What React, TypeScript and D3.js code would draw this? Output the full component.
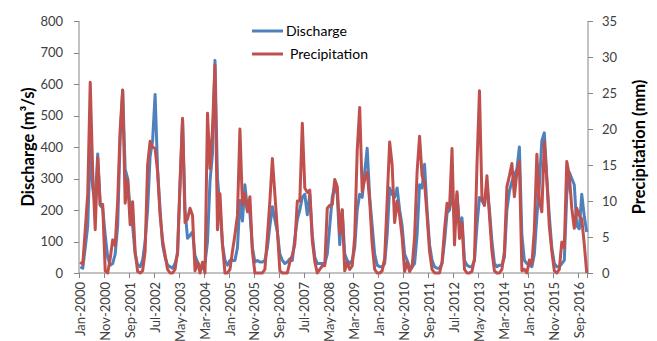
import React from 'react';
import * as d3 from 'd3';

// monthly values, Jan-2000 .. Dec-2016
const discharge = [
  19, 15, 80, 150, 400, 270, 220, 378, 215, 205, 120, 50, // 2000
  25, 30, 60, 150, 430, 580, 330, 300, 200, 150, 60, 25, // 2001
  20, 40, 100, 200, 370, 420, 567, 330, 200, 90, 50, 25, // 2002
  20, 15, 30, 60, 280, 486, 200, 110, 120, 130, 55, 35, // 2003
  20, 15, 30, 100, 290, 380, 675, 300, 210, 90, 40, 25, // 2004
  40, 40, 40, 80, 230, 165, 280, 200, 190, 80, 35, 40, // 2005
  35, 35, 40, 80, 150, 210, 170, 130, 60, 40, 30, 35, // 2006
  45, 40, 110, 170, 200, 240, 250, 185, 250, 120, 50, 30, // 2007
  30, 30, 30, 60, 150, 240, 275, 250, 90, 200, 60, 40, // 2008
  30, 40, 80, 200, 250, 240, 320, 396, 240, 150, 60, 25, // 2009
  20, 20, 30, 120, 270, 250, 240, 270, 200, 150, 60, 40, // 2010
  20, 20, 30, 120, 280, 270, 345, 200, 90, 40, 20, 15, // 2011
  15, 30, 100, 190, 200, 260, 170, 250, 150, 175, 40, 25, // 2012
  20, 20, 40, 150, 240, 230, 215, 280, 200, 100, 30, 20, // 2013
  25, 25, 50, 200, 260, 290, 310, 330, 400, 120, 40, 30, // 2014
  25, 20, 60, 180, 280, 420, 445, 300, 180, 80, 30, 20, // 2015
  20, 30, 40, 250, 320, 300, 280, 150, 140, 250, 180, 130, // 2016
];

const precipitation = [
  1.5, 1.2, 6, 11, 26.5, 14, 6, 16, 9.5, 9.5, 0.3, 0, // 2000
  2, 4.6, 3.8, 10, 20, 25.4, 9.7, 13, 6.7, 9.9, 3, 0.2, // 2001
  0, 0.3, 3, 15, 18.3, 17.5, 17.3, 14, 8, 4.5, 2.5, 0.5, // 2002
  0, 0, 0.5, 3, 12.7, 21.5, 7, 7.5, 9, 8, 0.3, 1.5, // 2003
  0, 1.5, 0, 22.2, 14.5, 20, 28.9, 6, 11, 4, 0, 0, // 2004
  0.5, 3, 5.3, 8, 20, 9.5, 11, 8.5, 10.6, 3, 0, 0, // 2005
  0, 0, 0.5, 5, 10, 15.9, 11, 6, 0.3, 0, 0, 0, // 2006
  1.5, 2.5, 4, 10, 10, 20.8, 11.8, 11.2, 11.5, 4.5, 1.6, 0, // 2007
  0.5, 1, 1, 9, 9.4, 9.5, 13, 12, 5.5, 8.8, 0.3, 1.5, // 2008
  0.5, 1, 5, 17, 23, 11.3, 13, 14, 10, 4, 0.5, 0, // 2009
  0, 0.3, 2, 10, 18.2, 15, 7, 10, 8, 5, 0.2, 1.5, // 2010
  0.2, 0.8, 5, 14, 19, 13.5, 12.5, 8, 3, 0.5, 0, 0, // 2011
  0, 1.5, 6, 9.7, 9, 17.3, 3.9, 11.3, 4.8, 7, 0.5, 0, // 2012
  0, 0.2, 2, 15, 25.3, 10.4, 9.4, 13.5, 8, 3, 0.3, 0, // 2013
  0, 0.5, 3, 12, 13.5, 15.2, 10.6, 14, 15.5, 0.3, 0.5, 0, // 2014
  1.8, 1.2, 6, 16.5, 10, 8.5, 18.2, 13, 6.5, 3, 0.3, 0, // 2015
  0.5, 4.3, 3.5, 15.5, 13.6, 9, 6.2, 9, 8, 7.5, 4, 0, // 2016
];

const tickLabels = [
  'Jan-2000', 'Nov-2000', 'Sep-2001', 'Jul-2002', 'May-2003', 'Mar-2004', 'Jan-2005',
  'Nov-2005', 'Sep-2006', 'Jul-2007', 'May-2008', 'Mar-2009', 'Jan-2010', 'Nov-2010',
  'Sep-2011', 'Jul-2012', 'May-2013', 'Mar-2014', 'Jan-2015', 'Nov-2015', 'Sep-2016',
];
const dischargeTicks = [0, 100, 200, 300, 400, 500, 600, 700, 800];
const precipTicks = [0, 5, 10, 15, 20, 25, 30, 35];

const W = 657;
const H = 341;
const left = 79;
const right = 588;
const top = 21;
const bottom = 273;
const font = 'Lato, "Liberation Sans", sans-serif';
const axisColor = '#868686';
const blue = '#4F81BD';
const red = '#C0504D';

export default function App() {
  const idx = d3.range(discharge.length);
  const x = d3.scaleBand<number>().domain(idx).range([left, right]);
  const cx = (i: number) => (x(i) as number) + x.bandwidth() / 2;
  const yL = d3.scaleLinear().domain([0, 800]).range([bottom, top]);
  const yR = d3.scaleLinear().domain([0, 35]).range([bottom, top]);

  const dLine = d3.line<number>().x((d, i) => cx(i)).y(d => yL(d));
  const pLine = d3.line<number>().x((d, i) => cx(i)).y(d => yR(d));

  const tickIdx = tickLabels.map((_, k) => k * 10);

  return (
    <svg width={W} height={H} style={{ position: 'absolute', left: 0, top: 0, background: '#fff' }}
      fontFamily={font}>
      {/* axes */}
      <line x1={left} x2={left} y1={top} y2={bottom} stroke={axisColor} />
      <line x1={right} x2={right} y1={top} y2={bottom} stroke={axisColor} />
      <line x1={left} x2={right} y1={bottom} y2={bottom} stroke={axisColor} />
      {dischargeTicks.map(t => (
        <g key={'l' + t}>
          <line x1={left - 5} x2={left} y1={Math.round(yL(t)) + 0.5} y2={Math.round(yL(t)) + 0.5} stroke={axisColor} />
          <text x={left - 16} y={yL(t)} dy="0.35em" textAnchor="end" fontSize={13} fill="#404040">{t}</text>
        </g>
      ))}
      {precipTicks.map(t => (
        <g key={'r' + t}>
          <line x1={right} x2={right + 5} y1={Math.round(yR(t)) + 0.5} y2={Math.round(yR(t)) + 0.5} stroke={axisColor} />
          <text x={right + 14} y={yR(t)} dy="0.35em" textAnchor="start" fontSize={13} fill="#404040">{t}</text>
        </g>
      ))}
      {tickIdx.map(i => (
        <line key={'t' + i} x1={Math.round(x(i) as number) + 0.5} x2={Math.round(x(i) as number) + 0.5}
          y1={bottom} y2={bottom + 5} stroke={axisColor} />
      ))}
      <line x1={right - 0.5} x2={right - 0.5} y1={bottom} y2={bottom + 5} stroke={axisColor} />
      {tickLabels.map((lab, k) => (
        <text key={lab} transform={`translate(${cx(tickIdx[k])},${bottom + 9}) rotate(-90)`}
          dy="0.35em" textAnchor="end" fontSize={13} fill="#404040">{lab}</text>
      ))}

      {/* axis titles */}
      <text transform={`translate(28,${(top + bottom) / 2}) rotate(-90)`} dy="0.35em" textAnchor="middle"
        fontSize={16.5} fontWeight="bold" fill="#000">Discharge (m³/s)</text>
      <text transform={`translate(639,${(top + bottom) / 2}) rotate(-90)`} dy="0.35em" textAnchor="middle"
        fontSize={16.5} fontWeight="bold" fill="#000">Precipitation (mm)</text>

      {/* series */}
      <path d={dLine(discharge) || ''} fill="none" stroke={blue} strokeWidth={3} strokeLinejoin="round" />
      <path d={pLine(precipitation) || ''} fill="none" stroke={red} strokeWidth={3} strokeLinejoin="round" />

      {/* legend */}
      <line x1={252} x2={283} y1={31} y2={31} stroke={blue} strokeWidth={3} />
      <text x={286} y={31} dy="0.35em" fontSize={14} fill="#000">Discharge</text>
      <line x1={252} x2={283} y1={54} y2={54} stroke={red} strokeWidth={3} />
      <text x={290} y={54} dy="0.35em" fontSize={14} fill="#000">Precipitation</text>
    </svg>
  );
}
